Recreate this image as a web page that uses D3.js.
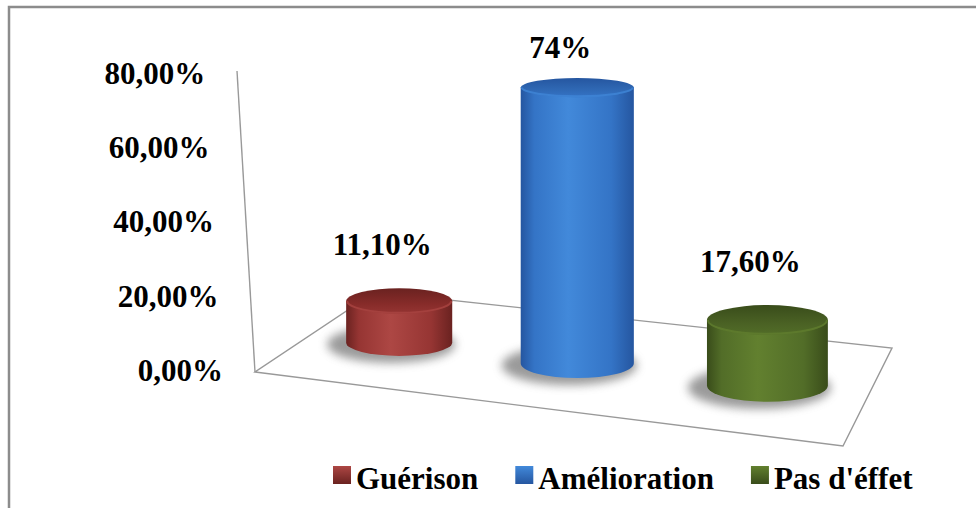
<!DOCTYPE html>
<meta charset="utf-8">
<style>
body { margin: 0; background: #fff; }
text { font-family: "Liberation Serif", "Times New Roman", serif; font-weight: bold; font-size: 31px; fill: #000; }
</style>
<body>
<script src="https://d3js.org/d3.v7.min.js"></script>
<script>

// data
var categories = ["Guérison", "Amélioration", "Pas d'éffet"];
var values = [11.1, 74, 17.6];
var valueLabels = ["11,10%", "74%", "17,60%"];
var tickValues = [0, 20, 40, 60, 80];
var tickLabels = ["0,00%", "20,00%", "40,00%", "60,00%", "80,00%"];

// colours per series: edge, body, highlight, top face
var shades = [
  ["#6a2220", "#963533", "#ad4744", "#862b29"],
  ["#2556a0", "#3474c6", "#4289da", "#2f68b4"],
  ["#394c1a", "#526d28", "#62802f", "#4a6124"]
];

var width = 976, height = 508;

var svg = d3.select("body").append("svg")
    .attr("width", width)
    .attr("height", height);

var defs = svg.append("defs");

defs.append("filter").attr("id", "blur")
    .attr("x", "-50%").attr("y", "-100%").attr("width", "200%").attr("height", "300%")
  .append("feGaussianBlur").attr("stdDeviation", 5);

// outer frame (only top and left edges visible)
svg.append("rect")
    .attr("x", 9).attr("y", 7)
    .attr("width", 1000).attr("height", 600)
    .attr("fill", "none")
    .attr("stroke", "#8c8c8c")
    .attr("stroke-width", 2.5);

// floor in perspective: front-left, front-right, back-right, back-left
var floor = [[255, 372], [843, 446], [892, 348], [375, 292]];

// map the unit square (u across, v into depth) onto the floor quad
function quadMap(q) {
  var x0 = q[0][0], y0 = q[0][1], x1 = q[1][0], y1 = q[1][1],
      x2 = q[2][0], y2 = q[2][1], x3 = q[3][0], y3 = q[3][1];
  var dx1 = x1 - x2, dy1 = y1 - y2, dx2 = x3 - x2, dy2 = y3 - y2,
      dx3 = x0 - x1 + x2 - x3, dy3 = y0 - y1 + y2 - y3;
  var den = dx1 * dy2 - dx2 * dy1;
  var g = (dx3 * dy2 - dx2 * dy3) / den,
      h = (dx1 * dy3 - dx3 * dy1) / den;
  var a = x1 - x0 + g * x1, b = x3 - x0 + h * x3, c = x0,
      d = y1 - y0 + g * y1, e = y3 - y0 + h * y3, f = y0;
  return function(u, v) {
    var w = g * u + h * v + 1;
    return [(a * u + b * v + c) / w, (d * u + e * v + f) / w];
  };
}
var proj = quadMap(floor);

var u = d3.scaleBand()
    .domain(categories)
    .range([0, 1])
    .paddingInner(0.385)
    .paddingOuter(0.1925);

// value axis
var y = d3.scaleLinear().domain([0, 80]).range([371, 74]);
var barH = d3.scaleLinear().domain([0, 80]).range([0, 298]);
var axisX = d3.scaleLinear().domain([372, 71]).range([255, 237]);
var tilt = d3.scaleLinear().domain([90, 390]).range([0.17, 0.27]);
var labelGap = d3.scaleLinear().domain([90, 320]).range([30, 48]);

svg.append("path")
    .attr("d", d3.line()(floor) + "Z")
    .attr("fill", "none")
    .attr("stroke", "#999")
    .attr("stroke-width", 1.4);

svg.append("line")
    .attr("x1", floor[0][0]).attr("y1", floor[0][1])
    .attr("x2", axisX(y(80) - 3)).attr("y2", y(80) - 3)
    .attr("stroke", "#999")
    .attr("stroke-width", 1.4);

var axis = svg.append("g")
    .call(d3.axisLeft(y)
      .tickValues(tickValues)
      .tickSize(0)
      .tickPadding(32)
      .tickFormat(function(d, i) { return tickLabels[i]; }));
axis.select(".domain").remove();
axis.selectAll(".tick")
    .attr("transform", function(d) { return "translate(" + axisX(y(d)) + "," + y(d) + ")"; });
axis.selectAll("text")
    .attr("font-family", null).attr("font-size", null).attr("fill", null);

// cylinder geometry
var bars = categories.map(function(c, i) {
  var uc = u(c) + u.bandwidth() / 2, vd = 0.46;
  var base = proj(uc, vd),
      l = proj(uc - u.bandwidth() / 2, vd),
      r = proj(uc + u.bandwidth() / 2, vd);
  var rx = (r[0] - l[0]) / 2;
  var yb = base[1], yt = yb - barH(values[i]);
  return {key: c, i: i, cx: base[0], rx: rx, yb: yb, yt: yt,
          ryb: rx * tilt(yb), ryt: rx * tilt(yt)};
});

bars.forEach(function(b) {
  var s = shades[b.i];
  var gb = defs.append("linearGradient").attr("id", "body" + b.i)
      .attr("x1", 0).attr("x2", 1).attr("y1", 0).attr("y2", 0);
  [[0, s[0]], [0.12, s[1]], [0.42, s[2]], [0.8, s[1]], [1, s[0]]].forEach(function(p) {
    gb.append("stop").attr("offset", p[0]).attr("stop-color", p[1]);
  });
  var gt = defs.append("linearGradient").attr("id", "top" + b.i)
      .attr("x1", 0).attr("x2", 0).attr("y1", 0).attr("y2", 1);
  gt.append("stop").attr("offset", 0).attr("stop-color", s[0]);
  gt.append("stop").attr("offset", 0.6).attr("stop-color", s[3]);
  gt.append("stop").attr("offset", 1).attr("stop-color", s[1]);
  var gl = defs.append("linearGradient").attr("id", "leg" + b.i)
      .attr("x1", 0).attr("x2", 0).attr("y1", 0).attr("y2", 1);
  gl.append("stop").attr("offset", 0).attr("stop-color", s[2]);
  gl.append("stop").attr("offset", 1).attr("stop-color", s[0]);
});

// soft shadows on the floor
svg.append("g").selectAll("ellipse")
    .data(bars)
  .enter().append("ellipse")
    .attr("cx", function(d) { return d.cx - 8; })
    .attr("cy", function(d) { return d.yb + 2; })
    .attr("rx", function(d) { return d.rx + 11; })
    .attr("ry", function(d) { return d.ryb + 5; })
    .attr("fill", "#707070")
    .attr("opacity", 0.7)
    .attr("filter", "url(#blur)");

var cyl = svg.append("g").selectAll("g")
    .data(bars)
  .enter().append("g");

cyl.append("path")
    .attr("d", function(d) {
      return "M" + (d.cx - d.rx) + "," + d.yt +
        "L" + (d.cx - d.rx) + "," + d.yb +
        "A" + d.rx + "," + d.ryb + " 0 0 0 " + (d.cx + d.rx) + "," + d.yb +
        "L" + (d.cx + d.rx) + "," + d.yt + "Z";
    })
    .attr("fill", function(d) { return "url(#body" + d.i + ")"; });

cyl.append("ellipse")
    .attr("cx", function(d) { return d.cx; })
    .attr("cy", function(d) { return d.yt; })
    .attr("rx", function(d) { return d.rx; })
    .attr("ry", function(d) { return d.ryt; })
    .attr("fill", function(d) { return "url(#top" + d.i + ")"; });

cyl.append("path")
    .attr("d", function(d) {
      return "M" + (d.cx - d.rx + 1) + "," + d.yt +
        "A" + (d.rx - 1) + "," + (d.ryt - 1) + " 0 0 0 " + (d.cx + d.rx - 1) + "," + d.yt;
    })
    .attr("fill", "none")
    .attr("stroke", function(d) { return shades[d.i][2]; })
    .attr("stroke-width", 2)
    .attr("opacity", 0.7);

// value labels
svg.append("g").selectAll("text")
    .data(bars)
  .enter().append("text")
    .attr("x", function(d) { return d.cx - 17; })
    .attr("y", function(d) { return d.yt - labelGap(d.yt); })
    .attr("text-anchor", "middle")
    .text(function(d) { return valueLabels[d.i]; });

// legend
var legend = svg.append("g");
var lx = 333;
categories.forEach(function(c, i) {
  legend.append("rect")
      .attr("x", lx).attr("y", 466)
      .attr("width", 18).attr("height", 18)
      .attr("fill", "url(#leg" + i + ")");
  var t = legend.append("text")
      .attr("x", lx + 23).attr("y", 489)
      .text(c);
  lx += 23 + t.node().getComputedTextLength() + 37;
});

</script>
</body>
